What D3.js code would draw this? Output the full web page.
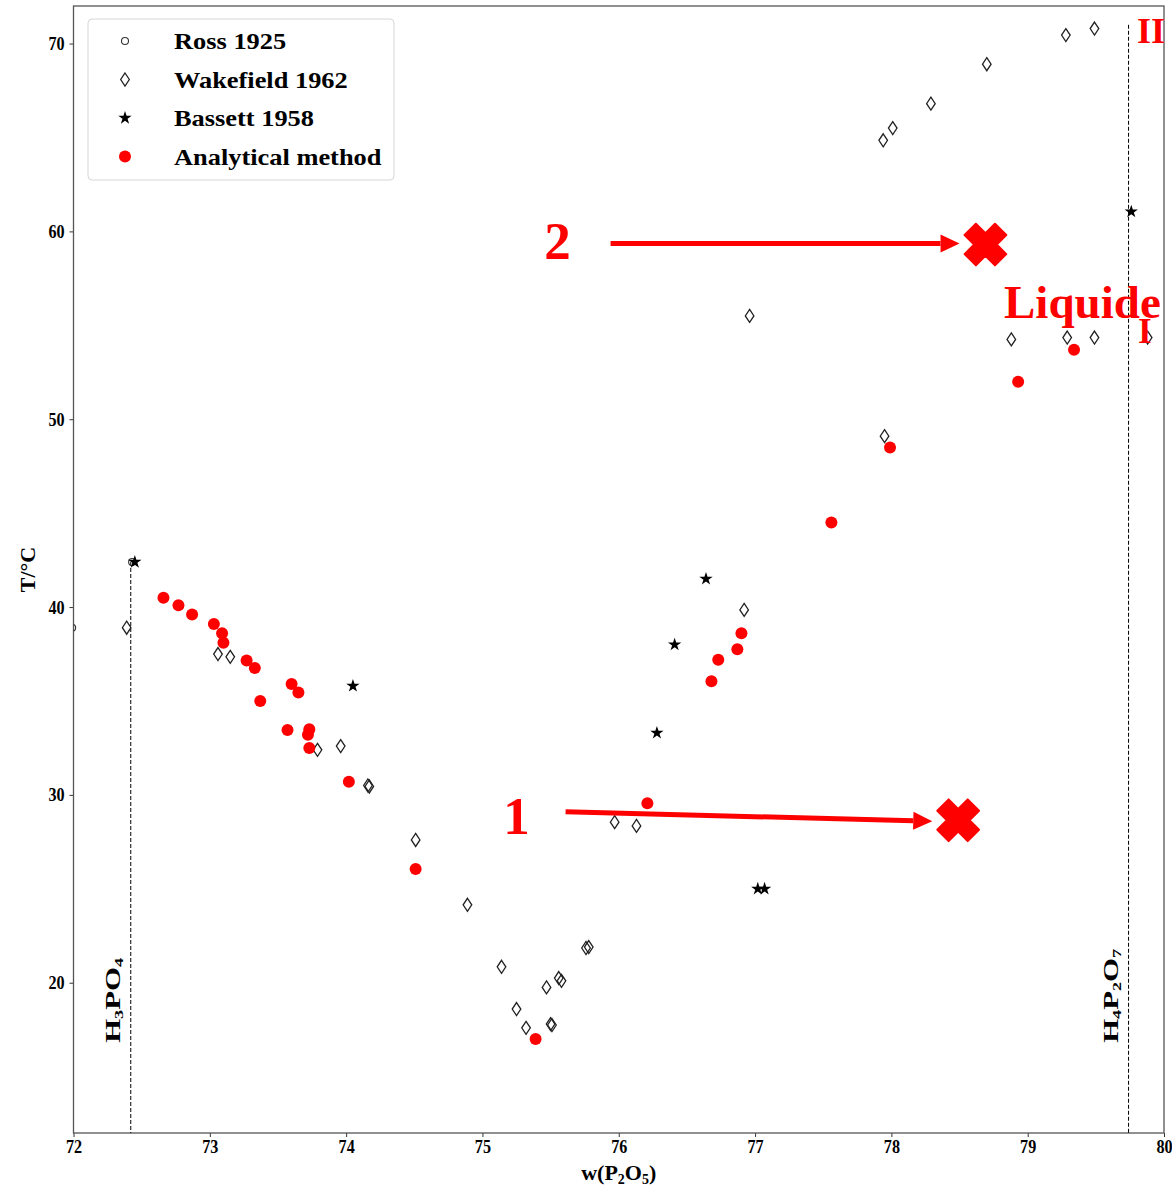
<!DOCTYPE html>
<html>
<head>
<meta charset="utf-8">
<script src="https://cdn.jsdelivr.net/npm/d3@7"></script>
<style>
  body { margin: 0; background: #fff; }
  text { font-family: "Liberation Serif", "Times New Roman", serif; font-weight: bold; }
</style>
</head>
<body>
<div id="chart"></div>
<script>
// data: [w(P2O5), T/°C]
var ross = [[72.43, 42.4], [71.99, 38.9]];
var wakefield = [
  [72.39, 38.9], [73.06, 37.5], [73.15, 37.35], [73.79, 32.4], [73.96, 32.6],
  [74.16, 30.5], [74.17, 30.45], [74.51, 27.6], [74.89, 24.15], [75.14, 20.85],
  [75.25, 18.6], [75.32, 17.6], [75.47, 19.75], [75.50, 17.8], [75.51, 17.75],
  [75.56, 20.25], [75.58, 20.1], [75.76, 21.85], [75.78, 21.9], [75.97, 28.55],
  [76.13, 28.35], [76.92, 39.85], [76.96, 55.5], [77.94, 64.85], [78.01, 65.5],
  [78.29, 66.8], [78.70, 68.9], [79.28, 70.45], [79.49, 70.8], [77.95, 49.1],
  [78.88, 54.25], [79.29, 54.35], [79.49, 54.35], [79.88, 54.35]
];
var bassett = [
  [72.45, 42.4], [74.05, 35.8], [76.28, 33.3], [76.41, 38.0], [76.64, 41.5],
  [77.02, 25.0], [77.07, 25.0], [79.76, 61.05]
];
var analytical = [
  [72.66, 40.5], [72.77, 40.1], [72.87, 39.6], [73.03, 39.1], [73.09, 38.6],
  [73.10, 38.1], [73.27, 37.15], [73.33, 36.75], [73.37, 35.0], [73.60, 35.9],
  [73.65, 35.45], [73.57, 33.45], [73.73, 33.5], [73.72, 33.2], [73.73, 32.5],
  [74.02, 30.7], [74.51, 26.05], [75.39, 17.0], [76.21, 29.55], [76.68, 36.05],
  [76.73, 37.2], [76.87, 37.75], [76.90, 38.6], [77.56, 44.5], [77.99, 48.5],
  [78.93, 52.0], [79.34, 53.7]
];
var xTicks = [72, 73, 74, 75, 76, 77, 78, 79, 80];
var yTicks = [20, 30, 40, 50, 60, 70];
var compounds = [
  {x: 72.42, top: 42.4, parts: [["H", 0], ["3", 1], ["PO", 0], ["4", 1]]},
  {x: 79.74, top: 71.0, parts: [["H", 0], ["4", 1], ["P", 0], ["2", 1], ["O", 0], ["7", 1]]}
];
// annotation arrows and crosses, in data units
var arrows = [
  {label: "1", at: [75.25, 27.9], from: [75.61, 29.1], to: [78.30, 28.6]},
  {label: "2", at: [75.55, 58.55], from: [75.94, 59.35], to: [78.50, 59.35]}
];
var crosses = [[78.49, 28.65], [78.69, 59.3]];

var width = 1172, height = 1186;
var margin = {top: 6, right: 8, bottom: 53, left: 73.5};

var svg = d3.select("#chart").append("svg")
    .attr("width", width).attr("height", height);

var x = d3.scaleLinear().domain([72, 80]).range([margin.left, width - margin.right]);
var y = d3.scaleLinear().domain([12, 72]).range([height - margin.bottom, margin.top]);

svg.append("clipPath").attr("id", "clip")
  .append("rect")
    .attr("x", x(72)).attr("y", y(72))
    .attr("width", x(80) - x(72)).attr("height", y(12) - y(72));

// axes
var xAxis = svg.append("g")
    .attr("transform", "translate(0," + y(12) + ")")
    .call(d3.axisBottom(x).tickValues(xTicks).tickSize(4).tickPadding(3).tickFormat(d3.format("d")));
var yAxis = svg.append("g")
    .attr("transform", "translate(" + x(72) + ",0)")
    .call(d3.axisLeft(y).tickValues(yTicks).tickSize(4).tickPadding(4).tickFormat(d3.format("d")));
[xAxis, yAxis].forEach(function(a) {
  a.select(".domain").remove();
  a.selectAll("line").attr("stroke", "#333");
  a.selectAll("text").attr("font-size", 19).attr("fill", "#000")
    .style("font-family", "'Liberation Serif', serif").style("font-weight", "bold");
});
xAxis.selectAll("text").attr("transform", "scale(0.85,1)");
yAxis.selectAll("text").attr("x", -10.5).attr("transform", "scale(0.85,1)");

svg.append("rect")
    .attr("x", x(72)).attr("y", y(72))
    .attr("width", x(80) - x(72)).attr("height", y(12) - y(72))
    .attr("fill", "none").attr("stroke", "#555").attr("stroke-width", 1.3);

var xl = svg.append("text")
    .attr("x", (x(72) + x(80)) / 2).attr("y", 1180)
    .attr("text-anchor", "middle").attr("font-size", 22);
xl.append("tspan").text("w(P");
xl.append("tspan").attr("font-size", 14).attr("dy", 4).text("2");
xl.append("tspan").attr("dy", -4).text("O");
xl.append("tspan").attr("font-size", 14).attr("dy", 4).text("5");
xl.append("tspan").attr("dy", -4).text(")");

svg.append("text")
    .attr("transform", "translate(35," + ((y(12) + y(72)) / 2) + ") rotate(-90)")
    .attr("text-anchor", "middle").attr("font-size", 22)
    .text("T/°C");

// dashed composition lines with vertical labels
compounds.forEach(function(c) {
  svg.append("line")
      .attr("x1", x(c.x)).attr("x2", x(c.x))
      .attr("y1", y(c.top)).attr("y2", y(12))
      .attr("stroke", "#000").attr("stroke-width", 1).attr("stroke-dasharray", "4,2");
  var t = svg.append("text")
      .attr("transform", "translate(" + (x(c.x) - 11) + "," + y(16.8) + ") rotate(-90) scale(1.4,1)")
      .attr("font-size", 22);
  var prev = 0;
  c.parts.forEach(function(p) {
    var shift = (p[1] - prev) * 3;
    t.append("tspan").attr("dy", shift).attr("font-size", p[1] ? 13 : 22).text(p[0]);
    prev = p[1];
  });
});

var plot = svg.append("g").attr("clip-path", "url(#clip)");

var diamond = "M0,-6.5L4.3,0L0,6.5L-4.3,0Z";
var star = d3.symbol().type(d3.symbolStar).size(55)();

plot.selectAll(".ross").data(ross).enter().append("circle")
    .attr("class", "ross")
    .attr("cx", function(d) { return x(d[0]); })
    .attr("cy", function(d) { return y(d[1]); })
    .attr("r", 3.5).attr("fill", "none").attr("stroke", "#333").attr("stroke-width", 1.1);

plot.selectAll(".wake").data(wakefield).enter().append("path")
    .attr("class", "wake")
    .attr("transform", function(d) { return "translate(" + x(d[0]) + "," + y(d[1]) + ")"; })
    .attr("d", diamond).attr("fill", "none").attr("stroke", "#222").attr("stroke-width", 1.3);

plot.selectAll(".bass").data(bassett).enter().append("path")
    .attr("class", "bass")
    .attr("transform", function(d) { return "translate(" + x(d[0]) + "," + y(d[1]) + ")"; })
    .attr("d", star).attr("fill", "#000");

plot.selectAll(".ana").data(analytical).enter().append("circle")
    .attr("class", "ana")
    .attr("cx", function(d) { return x(d[0]); })
    .attr("cy", function(d) { return y(d[1]); })
    .attr("r", 6).attr("fill", "#ff0000");

// annotations
arrows.forEach(function(a) {
  var x1 = x(a.from[0]), y1 = y(a.from[1]), x2 = x(a.to[0]), y2 = y(a.to[1]);
  var ang = Math.atan2(y2 - y1, x2 - x1);
  var hl = 19, hw = 9;
  var bx = x2 - hl * Math.cos(ang), by = y2 - hl * Math.sin(ang);
  svg.append("line")
      .attr("x1", x1).attr("y1", y1).attr("x2", bx).attr("y2", by)
      .attr("stroke", "#ff0000").attr("stroke-width", 5);
  svg.append("path")
      .attr("d", "M" + x2 + "," + y2 +
        "L" + (bx + hw * Math.sin(ang)) + "," + (by - hw * Math.cos(ang)) +
        "L" + (bx - hw * Math.sin(ang)) + "," + (by + hw * Math.cos(ang)) + "Z")
      .attr("fill", "#ff0000");
  svg.append("text")
      .attr("x", x(a.at[0])).attr("y", y(a.at[1]))
      .attr("text-anchor", "middle").attr("font-size", 53).attr("fill", "#ff0000")
      .text(a.label);
});

var aw = 8, al = 21.5;
var plus = [[aw, al], [aw, aw], [al, aw], [al, -aw], [aw, -aw], [aw, -al], [-aw, -al], [-aw, -aw], [-al, -aw], [-al, aw], [-aw, aw], [-aw, al]];
var cross = "M" + plus.map(function(p) {
  var c = Math.SQRT1_2;
  return [(p[0] - p[1]) * c, (p[0] + p[1]) * c].join(",");
}).join("L") + "Z";
svg.selectAll(".cross").data(crosses).enter().append("path")
    .attr("class", "cross")
    .attr("transform", function(d) { return "translate(" + x(d[0]) + "," + y(d[1]) + ")"; })
    .attr("d", cross).attr("fill", "#ff0000")
    .attr("stroke", "#ff0000").attr("stroke-width", 2).attr("stroke-linejoin", "round");

svg.append("text").attr("x", 1004).attr("y", 318)
    .attr("font-size", 47).attr("fill", "#ff0000").text("Liquide");
svg.append("text").attr("x", 1137).attr("y", 43)
    .attr("font-size", 36).attr("fill", "#ff0000").text("II");
svg.append("text").attr("x", 1138).attr("y", 343)
    .attr("font-size", 35).attr("fill", "#ff0000").text("I");

// legend
var legend = svg.append("g").attr("transform", "translate(88,19)");
legend.append("rect")
    .attr("width", 306).attr("height", 161).attr("rx", 4)
    .attr("fill", "#fff").attr("fill-opacity", 0.8)
    .attr("stroke", "#d6d6d6").attr("stroke-width", 1);
var items = [
  {name: "Ross 1925", kind: "ross"},
  {name: "Wakefield 1962", kind: "wake"},
  {name: "Bassett 1958", kind: "bass"},
  {name: "Analytical method", kind: "ana"}
];
items.forEach(function(it, i) {
  var g = legend.append("g").attr("transform", "translate(37," + (22 + i * 38.5) + ")");
  if (it.kind === "ross") g.append("circle").attr("r", 3.5).attr("fill", "none").attr("stroke", "#333").attr("stroke-width", 1.1);
  if (it.kind === "wake") g.append("path").attr("d", diamond).attr("fill", "none").attr("stroke", "#222").attr("stroke-width", 1.3);
  if (it.kind === "bass") g.append("path").attr("d", star).attr("fill", "#000");
  if (it.kind === "ana") g.append("circle").attr("r", 6).attr("fill", "#ff0000");
  g.append("text").attr("transform", "translate(49,8) scale(1.1,1)")
      .attr("font-size", 24).attr("fill", "#000").text(it.name);
});
</script>
</body>
</html>
